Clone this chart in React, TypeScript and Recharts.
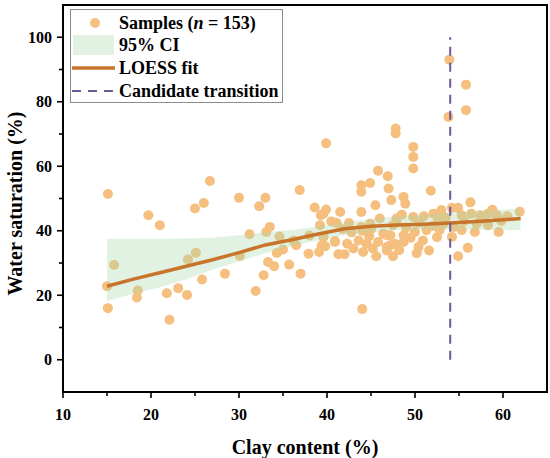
import { ComposedChart, Scatter, Area, Line, XAxis, YAxis, ReferenceLine, ReferenceArea, Legend } from "recharts";

const FONT = '"Liberation Serif", "Times New Roman", serif';
const POINT_COLOR = "#F5C07F";
const BAND_COLOR = "#A9D8AB";
const FIT_COLOR = "#C8742B";
const TRANSITION_COLOR = "#6B5A9C";
const TICK_SIZE = 7;
const TICK_MARGIN = 5;

// clay content (%), water saturation (%)
const samples: [number, number][] = [
  [15.1, 51.4], [19.7, 44.8], [21.0, 41.7], [25.0, 46.9], [26.0, 48.6], [26.7, 55.4], [15.8, 29.4],
  [15.0, 22.8], [15.1, 16.0], [18.5, 21.5], [18.4, 19.3], [22.1, 12.4], [21.8, 20.6], [23.1, 22.2],
  [24.1, 20.1], [24.2, 31.1], [25.1, 33.2], [25.8, 24.9], [28.4, 26.7],
  [30.0, 50.2], [30.1, 32.2], [31.2, 38.9], [33.1, 39.6], [34.6, 38.2], [33.3, 30.3], [34.0, 29.0],
  [32.8, 26.2], [31.9, 21.3], [35.7, 29.5], [37.0, 26.7], [34.3, 33.1], [35.0, 34.2], [36.2, 37.0],
  [33.0, 50.2], [32.3, 47.6], [33.5, 41.2], [36.9, 52.6],
  [37.9, 32.9], [39.1, 33.4], [39.8, 35.2], [40.9, 36.8], [41.3, 32.7], [42.0, 32.7], [39.9, 67.1],
  [38.6, 47.2], [39.6, 45.3], [39.9, 46.6], [41.5, 45.8], [39.3, 44.8], [39.2, 41.7], [40.5, 42.9],
  [41.1, 42.4], [42.5, 42.4], [39.6, 38.1], [40.9, 36.5], [36.5, 35.5], [39.4, 35.5], [41.8, 40.5],
  [43.6, 37.0], [44.1, 33.4], [44.8, 38.3], [45.6, 32.1], [45.8, 36.5], [46.8, 38.6], [46.8, 33.9],
  [44.0, 15.7], [43.9, 54.1], [44.9, 54.8], [43.9, 52.1], [45.8, 58.6], [46.9, 56.9], [47.0, 53.1],
  [45.5, 47.9], [43.9, 45.8], [43.9, 41.2], [44.9, 42.2], [46.0, 43.8], [46.4, 39.1], [46.8, 35.0],
  [42.8, 39.5], [45.0, 40.5], [44.0, 40.0],
  [47.3, 49.5], [47.5, 41.7], [47.9, 43.8], [47.2, 38.6], [47.7, 36.0], [47.5, 32.1], [47.8, 71.7],
  [47.8, 70.2], [49.8, 66.0], [49.8, 62.9], [49.8, 59.3], [48.7, 50.5], [48.9, 48.4], [51.8, 52.4],
  [53.0, 46.4], [47.9, 42.7], [49.8, 44.3], [52.1, 45.3], [52.6, 43.8], [48.7, 38.6], [50.0, 39.6],
  [51.3, 40.2], [52.8, 40.2], [48.7, 36.5], [50.9, 37.0], [50.4, 35.0], [51.6, 33.9], [47.2, 35.5],
  [53.9, 93.0], [53.8, 75.3],
  [55.8, 85.3], [55.8, 77.4], [56.3, 48.8], [54.2, 47.1], [54.9, 47.1], [61.9, 45.9], [55.3, 44.8],
  [56.4, 45.3], [57.4, 44.8], [58.3, 45.3], [59.3, 44.8], [57.0, 42.2], [58.3, 41.7], [54.4, 41.2],
  [55.3, 40.2], [56.8, 39.6], [59.5, 39.6], [54.2, 38.1], [56.0, 34.7], [54.9, 32.1],
  [50.5, 42.5], [51.0, 44.5], [53.5, 44.0], [52.0, 41.5], [49.0, 41.0], [48.5, 45.0], [57.8, 43.5],
  [59.8, 43.0], [55.6, 43.0], [53.2, 42.0], [38.0, 38.5], [42.3, 36.0], [44.5, 36.0], [49.5, 37.8],
  [50.2, 33.0], [45.2, 34.5], [43.0, 34.5], [48.2, 34.0], [52.5, 38.0], [60.5, 44.5], [58.8, 46.5],
];

// LOESS fit and 95% CI
const fitClay = [15, 18, 21, 24, 27, 30, 33, 36, 39, 42, 45, 48, 51, 54, 57, 60, 62];
const fitSw = [22.8, 25.0, 27.0, 29.0, 31.0, 33.2, 35.6, 37.2, 39.0, 40.6, 41.4, 41.8, 42.0, 42.4, 42.9, 43.4, 43.8];
const ciLow = [18.2, 20.5, 22.5, 25.0, 28.0, 30.5, 33.0, 35.3, 37.0, 38.6, 39.5, 40.2, 40.4, 40.4, 40.3, 40.2, 40.2];
const ciHigh = [37.5, 37.5, 37.5, 37.6, 37.8, 38.6, 39.5, 40.2, 41.3, 42.6, 43.6, 44.5, 45.0, 45.6, 46.2, 46.6, 46.8];

const transitionClay = 54;
const xTicks = [10, 15, 20, 25, 30, 35, 40, 45, 50, 55, 60];
const yTicks = [0, 10, 20, 30, 40, 50, 60, 70, 80, 90, 100];

const scatterData = samples.map(([x, y]) => ({ x, y }));
const fitData = fitClay.map((x, i) => ({ x, fit: fitSw[i], band: [ciLow[i], ciHigh[i]] }));

const XTick = (props: any) => {
  const { x, y, payload } = props;
  const axisY = y - TICK_SIZE - TICK_MARGIN;
  const major = payload.value % 10 === 0;
  return (
    <g>
      <line x1={x} x2={x} y1={axisY} y2={axisY + (major ? 6 : 4)} stroke="#000" strokeWidth={1.6} />
      {major && (
        <text x={x} y={axisY + 28} textAnchor="middle" fontFamily={FONT} fontWeight="bold" fontSize={16} fill="#000">
          {payload.value}
        </text>
      )}
    </g>
  );
};

const YTick = (props: any) => {
  const { x, y, payload } = props;
  const axisX = x + TICK_SIZE + TICK_MARGIN;
  const major = payload.value % 20 === 0;
  return (
    <g>
      <line x1={axisX} x2={axisX - (major ? 6 : 4)} y1={y} y2={y} stroke="#000" strokeWidth={1.6} />
      {major && (
        <text x={axisX - 11} y={y} dy="0.35em" textAnchor="end" fontFamily={FONT} fontWeight="bold" fontSize={16} fill="#000">
          {payload.value}
        </text>
      )}
    </g>
  );
};

const legendText = { fontFamily: FONT, fontWeight: "bold" as const, fontSize: 18, fill: "#000" };

const renderLegend = () => (
  <div style={{ width: 211, height: 92, border: "1px solid #8c8c8c", background: "#fff" }}>
    <svg width={211} height={92} style={{ display: "block" }}>
      <circle cx={24} cy={13} r={5} fill={POINT_COLOR} />
      <text x={48} y={19} {...legendText}>
        Samples (<tspan fontStyle="italic">n</tspan> = 153)
      </text>
      <rect x={2} y={25} width={41} height={20} fill={BAND_COLOR} fillOpacity={0.35} />
      <text x={48} y={41} {...legendText}>95% CI</text>
      <line x1={1} x2={44} y1={58} y2={58} stroke={FIT_COLOR} strokeWidth={3.5} />
      <text x={48} y={64} {...legendText}>LOESS fit</text>
      <line x1={1} x2={44} y1={81} y2={81} stroke={TRANSITION_COLOR} strokeWidth={2} strokeDasharray="9 7" />
      <text x={48} y={87} {...legendText}>Candidate transition</text>
    </svg>
  </div>
);

export default function App() {
  return (
    <div style={{ position: "absolute", left: 0, top: 0, width: 550, height: 458, background: "#fff" }}>
      <ComposedChart width={550} height={458} data={fitData} margin={{ top: 5, right: 3, bottom: 0, left: 0 }}>
        <XAxis
          dataKey="x"
          type="number"
          domain={[10, 65]}
          ticks={xTicks}
          allowDataOverflow
          height={66}
          tickSize={TICK_SIZE}
          tickMargin={TICK_MARGIN}
          tickLine={false}
          tick={<XTick />}
          axisLine={{ stroke: "#000", strokeWidth: 2 }}
          label={{
            value: "Clay content (%)",
            position: "insideBottom",
            offset: 4,
            style: { fontFamily: FONT, fontWeight: "bold", fontSize: 20, fill: "#000" },
          }}
        />
        <YAxis
          type="number"
          domain={[-10, 110]}
          ticks={yTicks}
          allowDataOverflow
          width={63}
          tickSize={TICK_SIZE}
          tickMargin={TICK_MARGIN}
          tickLine={false}
          tick={<YTick />}
          axisLine={{ stroke: "#000", strokeWidth: 2 }}
          label={{
            value: "Water saturation (%)",
            angle: -90,
            position: "insideLeft",
            offset: 15,
            dy: 5,
            style: { textAnchor: "middle", fontFamily: FONT, fontWeight: "bold", fontSize: 20, fill: "#000" },
          }}
        />
        <ReferenceArea x1={10} x2={65} y1={-10} y2={110} fill="none" stroke="#000" strokeWidth={2} />
        <Scatter
          name="Samples"
          data={scatterData}
          dataKey="y"
          zIndex={500}
          isAnimationActive={false}
          shape={(p: any) => <circle cx={p.cx} cy={p.cy} r={5} fill={POINT_COLOR} />}
        />
        <Area
          dataKey="band"
          type="linear"
          stroke="none"
          fill={BAND_COLOR}
          fillOpacity={0.35}
          zIndex={700}
          isAnimationActive={false}
        />
        <Line
          dataKey="fit"
          type="linear"
          stroke={FIT_COLOR}
          strokeWidth={3.5}
          dot={false}
          zIndex={800}
          isAnimationActive={false}
        />
        <ReferenceLine
          segment={[{ x: transitionClay, y: 0 }, { x: transitionClay, y: 100 }]}
          stroke={TRANSITION_COLOR}
          strokeWidth={2}
          strokeDasharray="9 7"
          zIndex={900}
        />
        <Legend
          layout="vertical"
          align="center"
          verticalAlign="middle"
          wrapperStyle={{ left: 70, top: 9, width: 213, height: 94 }}
          content={renderLegend}
        />
      </ComposedChart>
    </div>
  );
}
